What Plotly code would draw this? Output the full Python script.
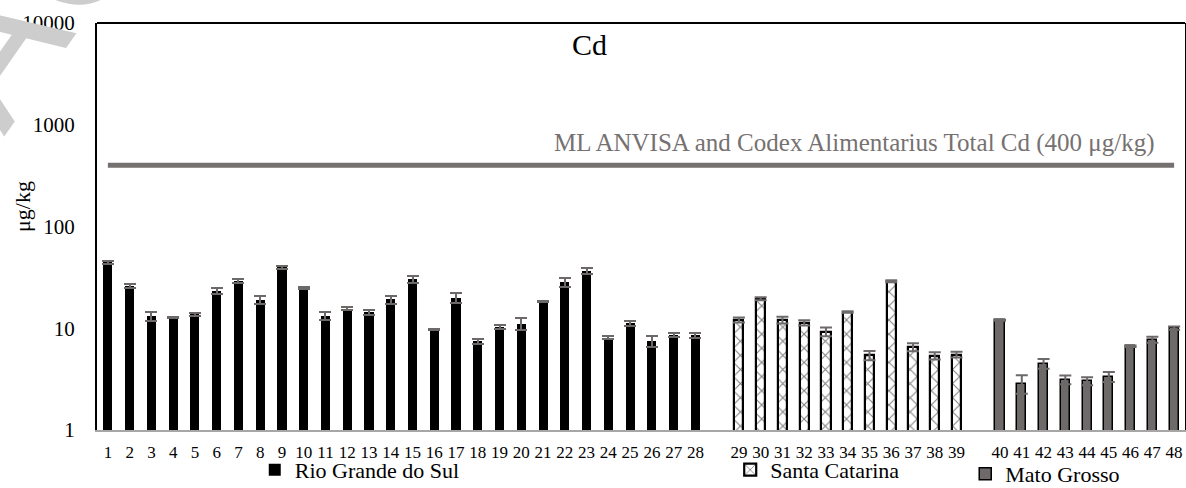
import plotly.graph_objects as go

# ---- data ----
rgs_labels = ["1","2","3","4","5","6","7","8","9","10","11","12","13","14",
              "15","16","17","18","19","20","21","22","23","24","25","26","27","28"]
rgs_vals = [44.5, 25.8, 13.2, 12.8, 13.7, 23.2, 29.0, 19.0, 39.7, 24.9, 13.3, 15.6, 14.3, 19.2,
            30.3, 9.7, 20.0, 7.46, 10.3, 11.1, 18.2, 28.4, 36.5, 8.08, 11.2, 7.45, 8.62, 8.53]
rgs_err = [1.7, 1.2, 1.4, 0.2, 0.5, 1.6, 1.4, 1.7, 1.5, 0.4, 1.25, 0.65, 0.9, 1.7,
           2.5, 0.15, 2.3, 0.42, 0.4, 1.4, 0.27, 3.1, 2.5, 0.3, 0.63, 0.9, 0.36, 0.52]

sc_labels = ["29","30","31","32","33","34","35","36","37","38","39"]
sc_vals = [12.1, 19.5, 12.05, 11.3, 9.25, 14.4, 5.42, 28.9, 6.54, 5.37, 5.52]
sc_err = [0.68, 0.66, 0.91, 0.68, 0.91, 0.22, 0.57, 0.54, 0.59, 0.45, 0.35]

mg_labels = ["40","41","42","43","44","45","46","47","48"]
mg_vals = [12.0, 2.86, 4.5, 3.12, 3.03, 3.34, 6.66, 7.72, 10.05]
mg_err = [0.15, 0.59, 0.49, 0.31, 0.27, 0.38, 0.1, 0.52, 0.38]

limit_value = 400
limit_text = "ML ANVISA and Codex Alimentarius Total Cd (400 μg/kg)"
y_ticks = [1, 10, 100, 1000, 10000]
y_ticktext = ["1", "10", "100", "1000", "10000"]
watermark_letters = ["A", "C"]

# ---- positions: one empty slot between regions ----
groups = [rgs_labels, sc_labels, mg_labels]
positions = []
slot = 1
for g in groups:
    positions.append(list(range(slot, slot + len(g))))
    slot += len(g) + 1
rgs_x, sc_x, mg_x = positions

FONT = "Liberation Serif, Times New Roman, serif"
ERR_COLOR = "#6d6968"
BAR_W = 0.42

fig = go.Figure()

fig.add_trace(go.Bar(
    x=rgs_x, y=rgs_vals, name="Rio Grande do Sul", width=BAR_W,
    marker=dict(color="black", line=dict(color="black", width=0)),
    error_y=dict(type="data", array=rgs_err, color=ERR_COLOR, thickness=2, width=6),
    legend="legend",
))
fig.add_trace(go.Bar(
    x=sc_x, y=sc_vals, name="Santa Catarina", width=BAR_W,
    marker=dict(color="white", line=dict(color="black", width=2.2),
                pattern=dict(shape="x", fgcolor="black", bgcolor="white", size=10, solidity=0.2)),
    error_y=dict(type="data", array=sc_err, color=ERR_COLOR, thickness=2, width=6),
    legend="legend2",
))
fig.add_trace(go.Bar(
    x=mg_x, y=mg_vals, name="Mato Grosso", width=BAR_W,
    marker=dict(color="#6e6a6a", line=dict(color="black", width=1.5)),
    error_y=dict(type="data", array=mg_err, color=ERR_COLOR, thickness=2, width=6),
    legend="legend3",
))

# limit line from first to last sample
fig.add_trace(go.Scatter(
    x=[rgs_x[0], mg_x[-1]], y=[limit_value, limit_value], mode="lines",
    line=dict(color="#767171", width=5), showlegend=False, hoverinfo="skip",
))

all_x = rgs_x + sc_x + mg_x
all_labels = rgs_labels + sc_labels + mg_labels

legend_font = dict(size=22, family=FONT, color="black")
wm_font = dict(size=190, family="Liberation Sans, Arial, sans-serif", color="#cdcdcd")

fig.update_layout(
    width=1186, height=488,
    margin=dict(l=97, r=1, t=23, b=58, autoexpand=False),
    paper_bgcolor="white", plot_bgcolor="white",
    font=dict(family=FONT, color="black"),
    bargap=0,
    xaxis=dict(
        range=[all_x[0] - 0.5, all_x[-1] + 0.5], tickmode="array", tickvals=all_x,
        ticktext=all_labels,
        tickfont=dict(size=17, family=FONT), showgrid=False, zeroline=False,
        showline=True, linecolor="#a6a6a6", linewidth=2, ticks="", ticklabelstandoff=6,
    ),
    yaxis=dict(
        type="log", range=[0, 4], tickmode="array", tickvals=y_ticks, ticktext=y_ticktext,
        tickfont=dict(size=21, family=FONT), showgrid=False, zeroline=False,
        showline=True, linecolor="black", linewidth=2, mirror=True, ticks="",
        ticklabelstandoff=16,
    ),
    legend=dict(x=0.145, y=-0.098, xanchor="left", yanchor="middle",
                font=legend_font, bgcolor="rgba(0,0,0,0)"),
    legend2=dict(x=0.582, y=-0.098, xanchor="left", yanchor="middle",
                 font=legend_font, bgcolor="rgba(0,0,0,0)"),
    legend3=dict(x=0.798, y=-0.108, xanchor="left", yanchor="middle",
                 font=legend_font, bgcolor="rgba(0,0,0,0)"),
    shapes=[dict(type="line", xref="paper", yref="paper", x0=0, x1=1, y0=1, y1=1,
                 line=dict(color="black", width=2))],
    annotations=[
        # faint watermark letters in the top-left corner
        dict(text=watermark_letters[0], xref="paper", yref="paper", x=-0.1016, y=0.941,
             xanchor="center", yanchor="middle", showarrow=False, textangle=-55, font=wm_font),
        dict(text=watermark_letters[1], xref="paper", yref="paper", x=-0.025, y=1.2016,
             xanchor="center", yanchor="middle", showarrow=False, textangle=-55, font=wm_font),
        dict(text="Cd", xref="paper", yref="paper", x=0.453, y=0.946,
             xanchor="center", yanchor="middle", showarrow=False,
             font=dict(size=30, family=FONT, color="black")),
        dict(text=limit_text, xref="paper", yref="paper", x=0.974, y=0.705,
             xanchor="right", yanchor="middle", showarrow=False,
             font=dict(size=25, family=FONT, color="#767171")),
        dict(text="μg/kg", xref="paper", yref="paper", x=-0.068, y=0.548,
             xanchor="center", yanchor="middle", showarrow=False, textangle=-90,
             font=dict(size=22, family=FONT, color="black")),
    ],
)

fig.write_html("out.html")
